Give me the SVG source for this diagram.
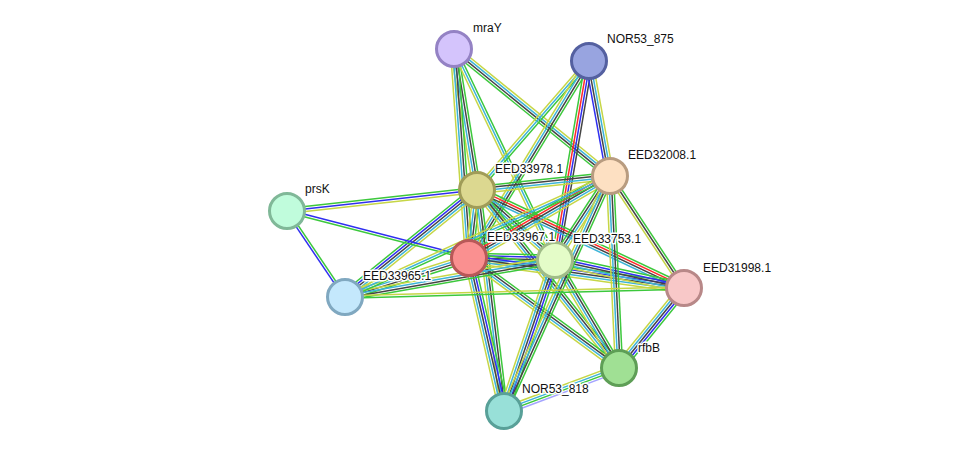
<svg xmlns="http://www.w3.org/2000/svg" xmlns:xlink="http://www.w3.org/1999/xlink" width="975" height="456" viewBox="0 0 975 456">
<style>
#edges use{stroke-width:1.5;fill:none}
.g{stroke:#3cc83c}.y{stroke:#c6d646}.k{stroke:#444}.c{stroke:#3cb4d8}.b{stroke:#2f2ff0}.r{stroke:#ff2a2a}.l{stroke:#a4a4ff}
.node circle{stroke-width:3}
.node text{font-family:"Liberation Sans",Arial,sans-serif;font-size:12px;fill:#111;stroke:#fff;stroke-width:3;stroke-linejoin:round;paint-order:stroke}
</style>
<defs>
<line id="e1" x1="454" y1="49" x2="477" y2="190"/>
<line id="e2" x1="454" y1="49" x2="469" y2="258"/>
<line id="e3" x1="454" y1="49" x2="555" y2="260"/>
<line id="e4" x1="454" y1="49" x2="610" y2="176"/>
<line id="e6" x1="589" y1="61" x2="477" y2="190"/>
<line id="e7" x1="589" y1="61" x2="469" y2="258"/>
<line id="e8" x1="589" y1="61" x2="555" y2="260"/>
<line id="e9" x1="589" y1="61" x2="610" y2="176"/>
<line id="e10" x1="477" y1="190" x2="287" y2="211"/>
<line id="e11" x1="477" y1="190" x2="345" y2="297"/>
<line id="e12" x1="477" y1="190" x2="469" y2="258"/>
<line id="e13" x1="477" y1="190" x2="555" y2="260"/>
<line id="e14" x1="477" y1="190" x2="610" y2="176"/>
<line id="e15" x1="477" y1="190" x2="684" y2="288"/>
<line id="e16" x1="477" y1="190" x2="619" y2="368"/>
<line id="e17" x1="477" y1="190" x2="504" y2="411"/>
<line id="e18" x1="469" y1="258" x2="287" y2="211"/>
<line id="e19" x1="469" y1="258" x2="345" y2="297"/>
<line id="e20" x1="469" y1="258" x2="555" y2="260"/>
<line id="e21" x1="469" y1="258" x2="610" y2="176"/>
<line id="e22" x1="469" y1="258" x2="684" y2="288"/>
<line id="e23" x1="469" y1="258" x2="619" y2="368"/>
<line id="e24" x1="469" y1="258" x2="504" y2="411"/>
<line id="e25" x1="555" y1="260" x2="345" y2="297"/>
<line id="e26" x1="555" y1="260" x2="610" y2="176"/>
<line id="e27" x1="555" y1="260" x2="684" y2="288"/>
<line id="e28" x1="555" y1="260" x2="619" y2="368"/>
<line id="e29" x1="555" y1="260" x2="504" y2="411"/>
<line id="e30" x1="610" y1="176" x2="684" y2="288"/>
<line id="e31" x1="610" y1="176" x2="619" y2="368"/>
<line id="e32" x1="610" y1="176" x2="504" y2="411"/>
<line id="e33" x1="610" y1="176" x2="345" y2="297"/>
<line id="e34" x1="684" y1="288" x2="619" y2="368"/>
<line id="e35" x1="619" y1="368" x2="504" y2="411"/>
<line id="e36" x1="287" y1="211" x2="345" y2="297"/>
<line id="e37" x1="345" y1="297" x2="684" y2="288"/>
</defs>
<rect width="975" height="456" fill="#fff"/>
<g id="edges">
<use href="#e1" class="g" transform="translate(3.56,-0.59)"/><use href="#e1" class="k" transform="translate(1.19,-0.2)"/><use href="#e1" class="c" transform="translate(-1.19,0.2)"/><use href="#e1" class="y" transform="translate(-3.56,0.59)"/>
<use href="#e2" class="g" transform="translate(3.6,-0.26)"/><use href="#e2" class="k" transform="translate(1.2,-0.09)"/><use href="#e2" class="c" transform="translate(-1.2,0.09)"/><use href="#e2" class="y" transform="translate(-3.6,0.26)"/>
<use href="#e3" class="g" transform="translate(2.16,-1.04)"/><use href="#e3" class="c"/><use href="#e3" class="y" transform="translate(-2.16,1.04)"/>
<use href="#e4" class="y" transform="translate(2.27,-2.79)"/><use href="#e4" class="c" transform="translate(0.76,-0.93)"/><use href="#e4" class="k" transform="translate(-0.76,0.93)"/><use href="#e4" class="g" transform="translate(-2.27,2.79)"/>
<use href="#e6" class="g" transform="translate(1.81,1.57)"/><use href="#e6" class="c"/><use href="#e6" class="y" transform="translate(-1.81,-1.57)"/>
<use href="#e7" class="g" transform="translate(3.08,1.88)"/><use href="#e7" class="k" transform="translate(1.03,0.63)"/><use href="#e7" class="c" transform="translate(-1.03,-0.63)"/><use href="#e7" class="y" transform="translate(-3.08,-1.88)"/>
<use href="#e8" class="k" transform="translate(3.56,0.6)"/><use href="#e8" class="b" transform="translate(1.19,0.2)"/><use href="#e8" class="r" transform="translate(-1.19,-0.2)"/><use href="#e8" class="g" transform="translate(-3.56,-0.6)"/>
<use href="#e9" class="y" transform="translate(3.54,-0.65)"/><use href="#e9" class="c" transform="translate(1.18,-0.22)"/><use href="#e9" class="k" transform="translate(-1.18,0.22)"/><use href="#e9" class="b" transform="translate(-3.54,0.65)"/>
<use href="#e10" class="y" transform="translate(0.26,2.39)"/><use href="#e10" class="b"/><use href="#e10" class="g" transform="translate(-0.26,-2.39)"/>
<use href="#e11" class="y" transform="translate(3.02,3.72)"/><use href="#e11" class="c" transform="translate(1.51,1.86)"/><use href="#e11" class="k"/><use href="#e11" class="b" transform="translate(-1.51,-1.86)"/><use href="#e11" class="g" transform="translate(-3.02,-3.72)"/>
<use href="#e12" class="g" transform="translate(3.57,0.42)"/><use href="#e12" class="k" transform="translate(1.19,0.14)"/><use href="#e12" class="c" transform="translate(-1.19,-0.14)"/><use href="#e12" class="y" transform="translate(-3.57,-0.42)"/>
<use href="#e13" class="g" transform="translate(2.4,-2.69)"/><use href="#e13" class="k" transform="translate(0.8,-0.9)"/><use href="#e13" class="c" transform="translate(-0.8,0.9)"/><use href="#e13" class="y" transform="translate(-2.4,2.69)"/>
<use href="#e14" class="g" transform="translate(-0.38,-3.59)"/><use href="#e14" class="k" transform="translate(-0.13,-1.2)"/><use href="#e14" class="c" transform="translate(0.13,1.2)"/><use href="#e14" class="y" transform="translate(0.38,3.59)"/>
<use href="#e15" class="g" transform="translate(1.55,-3.26)"/><use href="#e15" class="r" transform="translate(0.52,-1.09)"/><use href="#e15" class="k" transform="translate(-0.52,1.09)"/><use href="#e15" class="c" transform="translate(-1.55,3.26)"/>
<use href="#e16" class="g" transform="translate(2.82,-2.25)"/><use href="#e16" class="k" transform="translate(0.94,-0.75)"/><use href="#e16" class="c" transform="translate(-0.94,0.75)"/><use href="#e16" class="y" transform="translate(-2.82,2.25)"/>
<use href="#e17" class="g" transform="translate(3.57,-0.44)"/><use href="#e17" class="k" transform="translate(1.19,-0.15)"/><use href="#e17" class="c" transform="translate(-1.19,0.15)"/><use href="#e17" class="y" transform="translate(-3.57,0.44)"/>
<use href="#e18" class="g" transform="translate(-0.3,1.16)"/><use href="#e18" class="b" transform="translate(0.3,-1.16)"/>
<use href="#e19" class="g" transform="translate(1.08,3.44)"/><use href="#e19" class="k" transform="translate(0.36,1.15)"/><use href="#e19" class="c" transform="translate(-0.36,-1.15)"/><use href="#e19" class="y" transform="translate(-1.08,-3.44)"/>
<use href="#e20" class="g" transform="translate(0.12,-4.8)"/><use href="#e20" class="b" transform="translate(0.06,-2.4)"/><use href="#e20" class="k"/><use href="#e20" class="c" transform="translate(-0.06,2.4)"/><use href="#e20" class="y" transform="translate(-0.12,4.8)"/>
<use href="#e21" class="g" transform="translate(-2.42,-4.14)"/><use href="#e21" class="r" transform="translate(-1.21,-2.07)"/><use href="#e21" class="k"/><use href="#e21" class="c" transform="translate(1.21,2.07)"/><use href="#e21" class="y" transform="translate(2.42,4.14)"/>
<use href="#e22" class="g" transform="translate(0.66,-4.76)"/><use href="#e22" class="b" transform="translate(0.33,-2.38)"/><use href="#e22" class="k"/><use href="#e22" class="c" transform="translate(-0.33,2.38)"/><use href="#e22" class="y" transform="translate(-0.66,4.76)"/>
<use href="#e23" class="g" transform="translate(2.13,-2.91)"/><use href="#e23" class="k" transform="translate(0.71,-0.97)"/><use href="#e23" class="c" transform="translate(-0.71,0.97)"/><use href="#e23" class="y" transform="translate(-2.13,2.91)"/>
<use href="#e24" class="g" transform="translate(4.68,-1.08)"/><use href="#e24" class="b" transform="translate(2.34,-0.54)"/><use href="#e24" class="k"/><use href="#e24" class="c" transform="translate(-2.34,0.54)"/><use href="#e24" class="y" transform="translate(-4.68,1.08)"/>
<use href="#e25" class="g" transform="translate(0.63,3.54)"/><use href="#e25" class="k" transform="translate(0.21,1.18)"/><use href="#e25" class="c" transform="translate(-0.21,-1.18)"/><use href="#e25" class="y" transform="translate(-0.63,-3.54)"/>
<use href="#e26" class="g" transform="translate(-3.02,-1.97)"/><use href="#e26" class="k" transform="translate(-1.01,-0.66)"/><use href="#e26" class="c" transform="translate(1.01,0.66)"/><use href="#e26" class="y" transform="translate(3.02,1.97)"/>
<use href="#e27" class="g" transform="translate(1.02,-4.7)"/><use href="#e27" class="b" transform="translate(0.51,-2.35)"/><use href="#e27" class="k"/><use href="#e27" class="c" transform="translate(-0.51,2.35)"/><use href="#e27" class="y" transform="translate(-1.02,4.7)"/>
<use href="#e28" class="g" transform="translate(3.11,-1.83)"/><use href="#e28" class="k" transform="translate(1.04,-0.61)"/><use href="#e28" class="c" transform="translate(-1.04,0.61)"/><use href="#e28" class="y" transform="translate(-3.11,1.83)"/>
<use href="#e29" class="g" transform="translate(4.54,1.54)"/><use href="#e29" class="b" transform="translate(2.27,0.77)"/><use href="#e29" class="k"/><use href="#e29" class="c" transform="translate(-2.27,-0.77)"/><use href="#e29" class="y" transform="translate(-4.54,-1.54)"/>
<use href="#e30" class="g" transform="translate(2,-1.32)"/><use href="#e30" class="k"/><use href="#e30" class="y" transform="translate(-2,1.32)"/>
<use href="#e31" class="g" transform="translate(3.6,-0.17)"/><use href="#e31" class="k" transform="translate(1.2,-0.06)"/><use href="#e31" class="c" transform="translate(-1.2,0.06)"/><use href="#e31" class="y" transform="translate(-3.6,0.17)"/>
<use href="#e32" class="g" transform="translate(3.29,1.49)"/><use href="#e32" class="k" transform="translate(1.1,0.5)"/><use href="#e32" class="c" transform="translate(-1.1,-0.5)"/><use href="#e32" class="y" transform="translate(-3.29,-1.49)"/>
<use href="#e33" class="g" transform="translate(1,2.18)"/><use href="#e33" class="c"/><use href="#e33" class="y" transform="translate(-1,-2.18)"/>
<use href="#e34" class="g" transform="translate(3.72,3.02)"/><use href="#e34" class="b" transform="translate(1.86,1.51)"/><use href="#e34" class="k"/><use href="#e34" class="c" transform="translate(-1.86,-1.51)"/><use href="#e34" class="y" transform="translate(-3.72,-3.02)"/>
<use href="#e35" class="l" transform="translate(1.26,3.38)"/><use href="#e35" class="g" transform="translate(0.42,1.13)"/><use href="#e35" class="c" transform="translate(-0.42,-1.13)"/><use href="#e35" class="y" transform="translate(-1.26,-3.38)"/>
<use href="#e36" class="g" transform="translate(1,-0.67)"/><use href="#e36" class="b" transform="translate(-1,0.67)"/>
<use href="#e37" class="y" transform="translate(-0.03,-1.2)"/><use href="#e37" class="g" transform="translate(0.03,1.2)"/>
</g>
<g id="n-mraY" class="node"><circle cx="454" cy="49" r="17.5" fill="#d4c4fc" stroke="#9482c4"/><text x="473" y="32">mraY</text></g>
<g id="n-NOR53_875" class="node"><circle cx="589" cy="61" r="17.5" fill="#98a4e0" stroke="#5460a0"/><text x="607" y="43">NOR53_875</text></g>
<g id="n-EED32008.1" class="node"><circle cx="610" cy="176" r="17.5" fill="#fde0c2" stroke="#b89c80"/><text x="628" y="159">EED32008.1</text></g>
<g id="n-EED31998.1" class="node"><circle cx="684" cy="288" r="17.5" fill="#f8c8c8" stroke="#b88888"/><text x="703" y="272">EED31998.1</text></g>
<g id="n-rfbB" class="node"><circle cx="619" cy="368" r="17.5" fill="#a0e094" stroke="#5e9e56"/><text x="638" y="352">rfbB</text></g>
<g id="n-NOR53_818" class="node"><circle cx="504" cy="411" r="17.5" fill="#98e0d8" stroke="#58a098"/><text x="522" y="393">NOR53_818</text></g>
<g id="n-prsK" class="node"><circle cx="287" cy="211" r="17.5" fill="#c0fcdc" stroke="#80b898"/><text x="305" y="193">prsK</text></g>
<g id="n-EED33965.1" class="node"><circle cx="345" cy="297" r="17.5" fill="#c4e8fc" stroke="#80a8c0"/><text x="363" y="280">EED33965.1</text></g>
<g id="n-EED33753.1" class="node"><circle cx="555" cy="260" r="17.5" fill="#e4fcc8" stroke="#a0bc88"/><text x="573" y="243">EED33753.1</text></g>
<g id="n-EED33967.1" class="node"><circle cx="469" cy="258" r="17.5" fill="#fa9090" stroke="#b85858"/><text x="487" y="241">EED33967.1</text></g>
<g id="n-EED33978.1" class="node"><circle cx="477" cy="190" r="17.5" fill="#dcd890" stroke="#a09c58"/><text x="495" y="173">EED33978.1</text></g>
</svg>
